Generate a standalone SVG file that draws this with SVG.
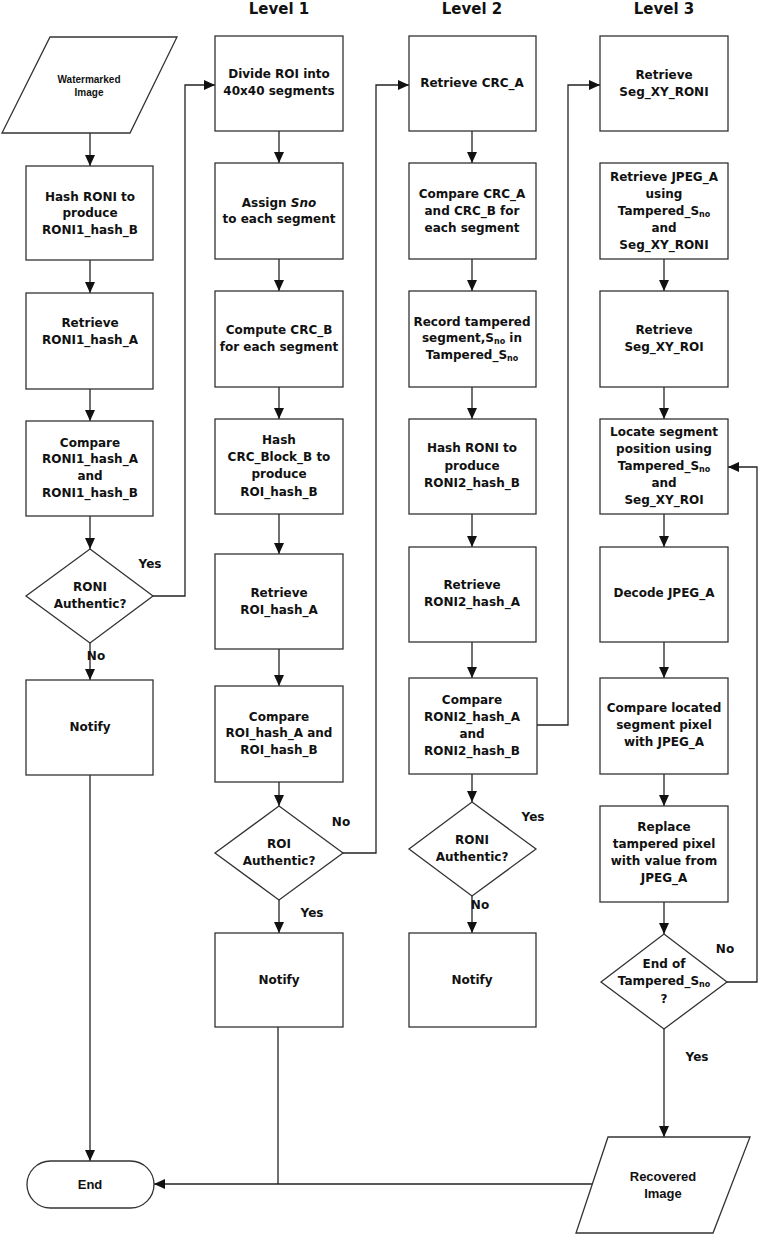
<svg xmlns="http://www.w3.org/2000/svg" width="761" height="1235" viewBox="0 0 761 1235">
<style>
.b{fill:#fff;stroke:#333;stroke-width:1.3}
.t{font-family:"DejaVu Sans",Verdana,sans-serif;font-weight:bold;font-size:12px;fill:#111;text-anchor:middle;dominant-baseline:central}
.h{font-family:"DejaVu Sans",Verdana,sans-serif;font-weight:bold;font-size:15px;fill:#111;text-anchor:middle}
.n{font-family:"Liberation Sans",Arial,sans-serif;font-weight:bold;fill:#111;text-anchor:middle;dominant-baseline:central}
.c{fill:none;stroke:#222;stroke-width:1.3}
.s{font-size:8px}
</style>
<defs>
<marker id="a" markerUnits="userSpaceOnUse" markerWidth="12" markerHeight="12" viewBox="0 0 12 12" refX="11" refY="6" orient="auto">
<path d="M0,1 L11,6 L0,11 Z" fill="#111"/>
</marker>
</defs>

<g id="titles">
<text class="h" x="279" y="14">Level 1</text>
<text class="h" x="472" y="14">Level 2</text>
<text class="h" x="664" y="14">Level 3</text>
</g>

<g id="connectors">
<line class="c" x1="90" y1="133" x2="90" y2="166" marker-end="url(#a)"/>
<line class="c" x1="90" y1="260" x2="90" y2="293" marker-end="url(#a)"/>
<line class="c" x1="90" y1="389" x2="90" y2="421" marker-end="url(#a)"/>
<line class="c" x1="90" y1="516" x2="90" y2="549" marker-end="url(#a)"/>
<line class="c" x1="90" y1="643" x2="90" y2="680" marker-end="url(#a)"/>
<line class="c" x1="90" y1="775" x2="90" y2="1161" marker-end="url(#a)"/>
<polyline class="c" points="153,596 185,596 185,85 215,85" marker-end="url(#a)"/>

<line class="c" x1="279" y1="131" x2="279" y2="163" marker-end="url(#a)"/>
<line class="c" x1="279" y1="259" x2="279" y2="291" marker-end="url(#a)"/>
<line class="c" x1="279" y1="387" x2="279" y2="419" marker-end="url(#a)"/>
<line class="c" x1="279" y1="514" x2="279" y2="554" marker-end="url(#a)"/>
<line class="c" x1="279" y1="649" x2="279" y2="686" marker-end="url(#a)"/>
<line class="c" x1="279" y1="782" x2="279" y2="806" marker-end="url(#a)"/>
<line class="c" x1="279" y1="900" x2="279" y2="933" marker-end="url(#a)"/>
<line class="c" x1="278" y1="1027" x2="278" y2="1184"/>
<polyline class="c" points="343,853 376,853 376,85 409,85" marker-end="url(#a)"/>

<line class="c" x1="472" y1="131" x2="472" y2="163" marker-end="url(#a)"/>
<line class="c" x1="472" y1="259" x2="472" y2="291" marker-end="url(#a)"/>
<line class="c" x1="472" y1="387" x2="472" y2="419" marker-end="url(#a)"/>
<line class="c" x1="472" y1="514" x2="472" y2="547" marker-end="url(#a)"/>
<line class="c" x1="472" y1="642" x2="472" y2="678" marker-end="url(#a)"/>
<line class="c" x1="472" y1="774" x2="472" y2="802" marker-end="url(#a)"/>
<line class="c" x1="472" y1="896" x2="472" y2="933" marker-end="url(#a)"/>
<polyline class="c" points="537,725 568,725 568,85 600,85" marker-end="url(#a)"/>

<line class="c" x1="664" y1="259" x2="664" y2="291" marker-end="url(#a)"/>
<line class="c" x1="664" y1="387" x2="664" y2="419" marker-end="url(#a)"/>
<line class="c" x1="664" y1="514" x2="664" y2="547" marker-end="url(#a)"/>
<line class="c" x1="664" y1="642" x2="664" y2="678" marker-end="url(#a)"/>
<line class="c" x1="664" y1="774" x2="664" y2="806" marker-end="url(#a)"/>
<line class="c" x1="664" y1="902" x2="664" y2="934" marker-end="url(#a)"/>
<line class="c" x1="664" y1="1029" x2="664" y2="1137" marker-end="url(#a)"/>
<polyline class="c" points="727,982 757,982 757,467 728,467" marker-end="url(#a)"/>
<line class="c" x1="592" y1="1184" x2="154" y2="1184" marker-end="url(#a)"/>

<text class="t" x="150" y="564">Yes</text>
<text class="t" x="96" y="656">No</text>
<text class="t" x="341" y="822">No</text>
<text class="t" x="312" y="913">Yes</text>
<text class="t" x="533" y="817">Yes</text>
<text class="t" x="480" y="905">No</text>
<text class="t" x="725" y="949">No</text>
<text class="t" x="697" y="1057">Yes</text>
</g>

<!-- Column 1 -->
<g id="watermarked">
<polygon class="b" points="50,37 177,37 130,133 2,133"/>
<text class="n" font-size="10" x="89" y="79">Watermarked</text>
<text class="n" font-size="10" x="89" y="92">Image</text>
</g>
<g id="hash_roni1">
<rect class="b" x="26" y="166" width="127" height="94"/>
<text class="t" x="90" y="197">Hash RONI to</text>
<text class="t" x="90" y="213">produce</text>
<text class="t" x="90" y="230">RONI1_hash_B</text>
</g>
<g id="retrieve_roni1">
<rect class="b" x="26" y="293" width="127" height="96"/>
<text class="t" x="90" y="323">Retrieve</text>
<text class="t" x="90" y="340">RONI1_hash_A</text>
</g>
<g id="compare_roni1">
<rect class="b" x="26" y="421" width="127" height="95"/>
<text class="t" x="90" y="443">Compare</text>
<text class="t" x="90" y="459">RONI1_hash_A</text>
<text class="t" x="90" y="476">and</text>
<text class="t" x="90" y="493">RONI1_hash_B</text>
</g>
<g id="roni_auth1">
<polygon class="b" points="90,549 153,596 90,643 26,596"/>
<text class="t" x="90" y="587">RONI</text>
<text class="t" x="90" y="604">Authentic?</text>
</g>
<g id="notify1">
<rect class="b" x="26" y="680" width="127" height="95"/>
<text class="t" x="90" y="727">Notify</text>
</g>
<g id="end">
<rect class="b" x="27" y="1161" width="127" height="47" rx="23.5" ry="23.5"/>
<text class="n" font-size="13" x="90" y="1184">End</text>
</g>

<!-- Level 1 -->
<g id="divide_roi">
<rect class="b" x="215" y="36" width="128" height="95"/>
<text class="t" x="279" y="74">Divide ROI into</text>
<text class="t" x="279" y="91">40x40 segments</text>
</g>
<g id="assign_sno">
<rect class="b" x="215" y="163" width="128" height="96"/>
<text class="t" x="279" y="203">Assign <tspan font-style="italic">Sno</tspan></text>
<text class="t" x="279" y="219">to each segment</text>
</g>
<g id="compute_crc">
<rect class="b" x="215" y="291" width="128" height="96"/>
<text class="t" x="279" y="330">Compute CRC_B</text>
<text class="t" x="279" y="347">for each segment</text>
</g>
<g id="hash_crc">
<rect class="b" x="215" y="419" width="128" height="95"/>
<text class="t" x="279" y="440">Hash</text>
<text class="t" x="279" y="457">CRC_Block_B to</text>
<text class="t" x="279" y="474">produce</text>
<text class="t" x="279" y="492">ROI_hash_B</text>
</g>
<g id="retrieve_roi_hash">
<rect class="b" x="215" y="554" width="128" height="95"/>
<text class="t" x="279" y="593">Retrieve</text>
<text class="t" x="279" y="610">ROI_hash_A</text>
</g>
<g id="compare_roi_hash">
<rect class="b" x="215" y="686" width="128" height="96"/>
<text class="t" x="279" y="717">Compare</text>
<text class="t" x="279" y="733">ROI_hash_A and</text>
<text class="t" x="279" y="750">ROI_hash_B</text>
</g>
<g id="roi_auth">
<polygon class="b" points="279,806 343,853 279,900 215,853"/>
<text class="t" x="279" y="844">ROI</text>
<text class="t" x="279" y="861">Authentic?</text>
</g>
<g id="notify2">
<rect class="b" x="215" y="933" width="128" height="94"/>
<text class="t" x="279" y="980">Notify</text>
</g>

<!-- Level 2 -->
<g id="retrieve_crc">
<rect class="b" x="409" y="36" width="127" height="95"/>
<text class="t" x="472" y="83">Retrieve CRC_A</text>
</g>
<g id="compare_crc">
<rect class="b" x="409" y="163" width="127" height="96"/>
<text class="t" x="472" y="194">Compare CRC_A</text>
<text class="t" x="472" y="211">and CRC_B for</text>
<text class="t" x="472" y="228">each segment</text>
</g>
<g id="record_tampered">
<rect class="b" x="409" y="291" width="127" height="96"/>
<text class="t" x="472" y="322">Record tampered</text>
<text class="t" x="472" y="338">segment,S<tspan class="s" dy="3">no</tspan><tspan dy="-3">  in</tspan></text>
<text class="t" x="472" y="355">Tampered_S<tspan class="s" dy="3">no</tspan></text>
</g>
<g id="hash_roni2">
<rect class="b" x="409" y="419" width="127" height="95"/>
<text class="t" x="472" y="448">Hash RONI to</text>
<text class="t" x="472" y="466">produce</text>
<text class="t" x="472" y="483">RONI2_hash_B</text>
</g>
<g id="retrieve_roni2">
<rect class="b" x="409" y="547" width="127" height="95"/>
<text class="t" x="472" y="585">Retrieve</text>
<text class="t" x="472" y="602">RONI2_hash_A</text>
</g>
<g id="compare_roni2">
<rect class="b" x="409" y="678" width="128" height="96"/>
<text class="t" x="472" y="700">Compare</text>
<text class="t" x="472" y="717">RONI2_hash_A</text>
<text class="t" x="472" y="734">and</text>
<text class="t" x="472" y="751">RONI2_hash_B</text>
</g>
<g id="roni_auth2">
<polygon class="b" points="472,802 536,849 472,896 409,849"/>
<text class="t" x="472" y="840">RONI</text>
<text class="t" x="472" y="857">Authentic?</text>
</g>
<g id="notify3">
<rect class="b" x="409" y="933" width="127" height="94"/>
<text class="t" x="472" y="980">Notify</text>
</g>

<!-- Level 3 -->
<g id="retrieve_seg_roni">
<rect class="b" x="600" y="36" width="128" height="95"/>
<text class="t" x="664" y="75">Retrieve</text>
<text class="t" x="664" y="92">Seg_XY_RONI</text>
</g>
<g id="retrieve_jpeg">
<rect class="b" x="600" y="163" width="128" height="96"/>
<text class="t" x="664" y="177">Retrieve JPEG_A</text>
<text class="t" x="664" y="194">using</text>
<text class="t" x="664" y="211">Tampered_S<tspan class="s" dy="3">no</tspan></text>
<text class="t" x="664" y="228">and</text>
<text class="t" x="664" y="245">Seg_XY_RONI</text>
</g>
<g id="retrieve_seg_roi">
<rect class="b" x="600" y="291" width="128" height="96"/>
<text class="t" x="664" y="330">Retrieve</text>
<text class="t" x="664" y="347">Seg_XY_ROI</text>
</g>
<g id="locate_segment">
<rect class="b" x="600" y="419" width="128" height="95"/>
<text class="t" x="664" y="432">Locate segment</text>
<text class="t" x="664" y="449">position using</text>
<text class="t" x="664" y="466">Tampered_S<tspan class="s" dy="3">no</tspan></text>
<text class="t" x="664" y="483">and</text>
<text class="t" x="664" y="500">Seg_XY_ROI</text>
</g>
<g id="decode_jpeg">
<rect class="b" x="600" y="547" width="128" height="95"/>
<text class="t" x="664" y="593">Decode JPEG_A</text>
</g>
<g id="compare_located">
<rect class="b" x="600" y="678" width="128" height="96"/>
<text class="t" x="664" y="708">Compare located</text>
<text class="t" x="664" y="725">segment pixel</text>
<text class="t" x="664" y="742">with JPEG_A</text>
</g>
<g id="replace_pixel">
<rect class="b" x="600" y="806" width="128" height="96"/>
<text class="t" x="664" y="827">Replace</text>
<text class="t" x="664" y="844">tampered pixel</text>
<text class="t" x="664" y="861">with value from</text>
<text class="t" x="664" y="878">JPEG_A</text>
</g>
<g id="end_tampered">
<polygon class="b" points="664,934 727,982 664,1029 601,982"/>
<text class="t" x="664" y="964">End of</text>
<text class="t" x="664" y="981">Tampered_S<tspan class="s" dy="3">no</tspan></text>
<text class="t" x="664" y="999">?</text>
</g>
<g id="recovered">
<polygon class="b" points="608,1137 750,1137 713,1233 576,1233"/>
<text class="n" font-size="13" x="663" y="1176">Recovered</text>
<text class="n" font-size="13" x="663" y="1193">Image</text>
</g>
</svg>
